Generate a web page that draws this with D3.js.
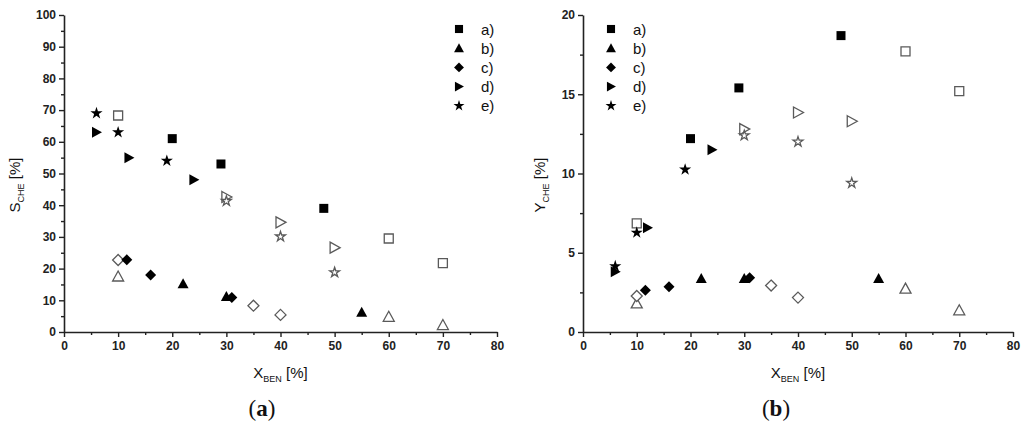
<!DOCTYPE html>
<html>
<head>
<meta charset="utf-8">
<script src="https://cdn.jsdelivr.net/npm/d3@7"></script>
<style>
  body { margin: 0; background: #fff; }
  .domain { stroke: #222; stroke-width: 1.6px; }
  .tick line { stroke: #222; stroke-width: 1.4px; }
</style>
</head>
<body>
<svg id="chart" width="1024" height="429"></svg>
<script>
(function(){

	//series labels (legend)
	var seriesNames = ["a)", "b)", "c)", "d)", "e)"];
	var seriesShapes = ["square", "triangle", "diamond", "right", "star"];

	//panel (a): S_CHE [%] vs X_BEN [%]  -- filled and open points per series
	var selA = [[20, 61], [29, 53], [48, 39]];
	var selAOpen = [[10, 68.3], [60, 29.5], [70, 21.7]];
	var selB = [[22, 15.2], [30, 11.2], [55, 6.2]];
	var selBOpen = [[10, 17.5], [60, 4.8], [70, 2.2]];
	var selC = [[11.6, 22.8], [16, 18], [31, 10.9]];
	var selCOpen = [[10, 22.7], [35, 8.3], [40, 5.4]];
	var selD = [[6, 63], [12, 55], [24, 48]];
	var selDOpen = [[30, 42.6], [40, 34.6], [50, 26.6]];
	var selE = [[6, 69], [10, 63], [19, 54]];
	var selEOpen = [[30, 41.3], [40, 30.1], [50, 18.8]];

	//panel (b): Y_CHE [%] vs X_BEN [%]
	var yldA = [[20, 12.2], [29, 15.4], [48, 18.7]];
	var yldAOpen = [[10, 6.85], [60, 17.7], [70, 15.2]];
	var yldB = [[22, 3.37], [30, 3.37], [55, 3.37]];
	var yldBOpen = [[10, 1.8], [60, 2.74], [70, 1.37]];
	var yldC = [[11.6, 2.63], [16, 2.85], [31, 3.42]];
	var yldCOpen = [[10, 2.27], [35, 2.93], [40, 2.17]];
	var yldD = [[6, 3.8], [12, 6.57], [24, 11.5]];
	var yldDOpen = [[30, 12.8], [40, 13.85], [50, 13.3]];
	var yldE = [[6, 4.15], [10, 6.27], [19, 10.25]];
	var yldEOpen = [[30, 12.4], [40, 12.0], [50, 9.4]];

	//axis ticks
	var xTicks = [0, 10, 20, 30, 40, 50, 60, 70, 80];
	var xMinor = [5, 15, 25, 35, 45, 55, 65, 75];
	var selTicks = [0, 10, 20, 30, 40, 50, 60, 70, 80, 90, 100];
	var selMinor = [5, 15, 25, 35, 45, 55, 65, 75, 85, 95];
	var yldTicks = [0, 5, 10, 15, 20];
	var yldMinor = [2.5, 7.5, 12.5, 17.5];

	var svg = d3.select("#chart");
	var openStroke = "#5a5a5a";
	var sans = "Arial, 'Liberation Sans', sans-serif";

	//marker paths, centered at 0,0
	function shapePath(kind, open){
		switch(kind){
			case "square": return "M-4.5,-4.5H4.5V4.5H-4.5Z";
			case "triangle": return "M0,-5.5L5.5,4.5L-5.5,4.5Z";
			case "diamond": return "M0,-5.5L5.5,0L0,5.5L-5.5,0Z";
			case "right": return "M-4.5,-5.5L5.5,0L-4.5,5.5Z";
			case "star": return d3.symbol(d3.symbolStar, open ? 30 : 46)();
		}
	}

	function styleTicks(sel){
		sel.selectAll(".tick text")
			.style("font-family", sans)
			.style("font-size", "12px")
			.style("font-weight", "bold")
			.attr("fill", "#222");
	}

	function drawPanel(opt){
		var x = d3.scaleLinear().domain([0, 80]).range([opt.left, opt.right]);
		var y = d3.scaleLinear().domain([0, opt.yMax]).range([opt.bottom, opt.top]);

		var g = svg.append("g");

		//minor ticks first
		g.append("g")
			.attr("transform", "translate(0," + opt.bottom + ")")
			.call(d3.axisBottom(x).tickValues(opt.xMinor).tickSize(3).tickFormat(""))
			.select(".domain").remove();
		g.append("g")
			.attr("transform", "translate(" + opt.left + ",0)")
			.call(d3.axisLeft(y).tickValues(opt.yMinor).tickSize(3).tickFormat(""))
			.select(".domain").remove();

		//major axes
		g.append("g")
			.attr("transform", "translate(0," + opt.bottom + ")")
			.call(d3.axisBottom(x).tickValues(opt.xTicks).tickSize(5).tickSizeOuter(0).tickPadding(4))
			.call(styleTicks);
		g.append("g")
			.attr("transform", "translate(" + opt.left + ",0)")
			.call(d3.axisLeft(y).tickValues(opt.yTicks).tickSize(5).tickSizeOuter(0).tickPadding(3))
			.call(styleTicks);

		//points
		opt.series.forEach(function(s, i){
			var kind = seriesShapes[i];
			g.append("g").selectAll("path")
				.data(s.open)
				.enter()
				.append("path")
				.attr("d", shapePath(kind, true))
				.attr("transform", function(d){ return "translate(" + x(d[0]) + "," + y(d[1]) + ")"; })
				.attr("fill", "#fff")
				.attr("stroke", openStroke)
				.attr("stroke-width", 1.3);
		});
		opt.series.forEach(function(s, i){
			var kind = seriesShapes[i];
			g.append("g").selectAll("path")
				.data(s.filled)
				.enter()
				.append("path")
				.attr("d", shapePath(kind, false))
				.attr("transform", function(d){ return "translate(" + x(d[0]) + "," + y(d[1]) + ")"; })
				.attr("fill", "#000");
		});

		//legend
		var leg = g.append("g").selectAll("g")
			.data(seriesNames)
			.enter()
			.append("g")
			.attr("transform", function(d, i){ return "translate(" + opt.legX + "," + (29 + i * 19.2) + ")"; });
		leg.append("path")
			.attr("d", function(d, i){ return shapePath(seriesShapes[i], false); })
			.attr("transform", "scale(0.9)")
			.attr("fill", "#000");
		leg.append("text")
			.attr("x", 22)
			.attr("y", 5.5)
			.style("font-family", sans)
			.style("font-size", "15px")
			.attr("fill", "#111")
			.text(function(d){ return d; });

		//axis titles
		var xt = g.append("text")
			.attr("x", (opt.left + opt.right) / 2)
			.attr("y", 378)
			.attr("text-anchor", "middle")
			.style("font-family", sans)
			.style("font-size", "15px")
			.attr("fill", "#111");
		xt.append("tspan").text("X");
		xt.append("tspan").style("font-size", "9px").attr("dy", 4).text("BEN");
		xt.append("tspan").attr("dy", -4).text(" [%]");

		var yt = g.append("text")
			.attr("transform", "translate(" + opt.yLabX + ",185) rotate(-90)")
			.attr("text-anchor", "middle")
			.style("font-family", sans)
			.style("font-size", "15px")
			.attr("fill", "#111");
		yt.append("tspan").text(opt.yLetter);
		yt.append("tspan").style("font-size", "9px").attr("dy", 4).text("CHE");
		yt.append("tspan").attr("dy", -4).text(" [%]");

		//panel caption
		var cap = g.append("text")
			.attr("x", opt.capX)
			.attr("y", 416)
			.attr("text-anchor", "middle")
			.style("font-family", "'Liberation Serif', 'DejaVu Serif', serif")
			.style("font-size", "23px")
			.attr("fill", "#111");
		cap.append("tspan").text("(");
		cap.append("tspan").style("font-weight", "bold").text(opt.capLetter);
		cap.append("tspan").text(")");
	}

	drawPanel({
		left: 64, right: 497, top: 15, bottom: 332, yMax: 100,
		xTicks: xTicks, xMinor: xMinor, yTicks: selTicks, yMinor: selMinor,
		series: [
			{filled: selA, open: selAOpen},
			{filled: selB, open: selBOpen},
			{filled: selC, open: selCOpen},
			{filled: selD, open: selDOpen},
			{filled: selE, open: selEOpen}
		],
		legX: 459, yLabX: 20, yLetter: "S", capX: 262, capLetter: "a"
	});

	drawPanel({
		left: 583, right: 1013, top: 15, bottom: 332, yMax: 20,
		xTicks: xTicks, xMinor: xMinor, yTicks: yldTicks, yMinor: yldMinor,
		series: [
			{filled: yldA, open: yldAOpen},
			{filled: yldB, open: yldBOpen},
			{filled: yldC, open: yldCOpen},
			{filled: yldD, open: yldDOpen},
			{filled: yldE, open: yldEOpen}
		],
		legX: 611, yLabX: 545, yLetter: "Y", capX: 776, capLetter: "b"
	});

})();
</script>
</body>
</html>
